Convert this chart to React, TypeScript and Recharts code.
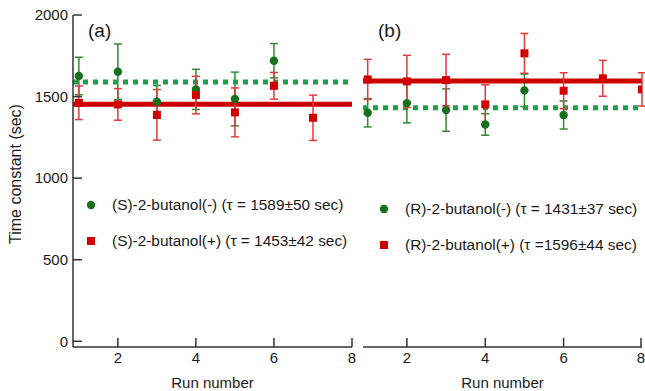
import React from "react";
import {
    ComposedChart,
    Scatter,
    ErrorBar,
    XAxis,
    YAxis,
    ReferenceLine,
} from "recharts";

// run numbers
const runsSMinus = [1, 2, 3, 4, 5, 6];
const runsSPlus = [1, 2, 3, 4, 5, 6, 7];
const runsRMinus = [1, 2, 3, 4, 5, 6];
const runsRPlus = [1, 2, 3, 4, 5, 6, 7, 8];

// time constants (sec) and their errors
const tauSMinus = [1626, 1652, 1468, 1544, 1485, 1720];
const errSMinus = [115, 170, 100, 123, 165, 105];
const tauSPlus = [1462, 1452, 1388, 1509, 1403, 1566, 1370];
const errSPlus = [103, 97, 155, 115, 150, 82, 139];
const tauRMinus = [1401, 1460, 1417, 1329, 1538, 1387];
const errRMinus = [87, 121, 130, 66, 100, 86];
const tauRPlus = [1605, 1593, 1601, 1452, 1765, 1536, 1612, 1544];
const errRPlus = [123, 160, 158, 120, 122, 110, 110, 102];

// fitted averages
const fitSMinus = 1589;
const fitSPlus = 1453;
const fitRMinus = 1431;
const fitRPlus = 1596;

const xTicks = [2, 4, 6, 8];
const yTicks = [0, 500, 1000, 1500, 2000];

const GREEN_DOT = "#17701c";
const GREEN_BAR = "#2f8a2f";
const GREEN_FIT = "#1ea04a";
const RED_DOT = "#d00000";
const RED_BAR = "#e23a3a";
const RED_FIT = "#cc0000";
const AXIS = "#333";
const TEXT = "#1a1a1a";
const FONT = "'Liberation Sans', Arial, sans-serif";

const toRows = (runs: number[], tau: number[], err: number[]) =>
    runs.map((run, i) => ({ run, tau: tau[i], err: err[i] }));

const Circle = (props: any) => {
    const { cx, cy } = props;
    if (cx == null || cy == null) return null;
    return <circle cx={cx} cy={cy} r={4.2} fill={GREEN_DOT} />;
};

const Square = (props: any) => {
    const { cx, cy } = props;
    if (cx == null || cy == null) return null;
    return <rect x={cx - 4} y={cy - 4} width={8} height={8} fill={RED_DOT} />;
};

// ticks point inwards, so draw them by hand
const XTick = (props: any) => {
    const { x, y, payload } = props;
    return (
        <g>
            <line x1={x} x2={x} y1={y} y2={y - 9} stroke={AXIS} strokeWidth={1.5} />
            <text x={x} y={y + 5} dy="0.71em" textAnchor="middle" fill={TEXT} fontSize={15} fontFamily={FONT}>
                {payload.value}
            </text>
        </g>
    );
};

const YTick = (props: any) => {
    const { x, y, payload, showLabel } = props;
    return (
        <g>
            <line x1={x} x2={x + 9} y1={y} y2={y} stroke={AXIS} strokeWidth={1.5} />
            {showLabel && (
                <text x={x - 5} y={y} dy="0.355em" textAnchor="end" fill={TEXT} fontSize={15} fontFamily={FONT}>
                    {payload.value}
                </text>
            )}
        </g>
    );
};

const LegendBox = ({ items, left, top }: { items: { label: string; kind: string }[]; left: number; top: number }) => (
    <div style={{ position: "absolute", left, top, fontFamily: FONT, fontSize: 15.4, color: TEXT, whiteSpace: "nowrap" }}>
        {items.map((it, i) => (
            <div key={i} style={{ display: "flex", alignItems: "center", height: 36 }}>
                <svg width={27} height={12}>
                    {it.kind === "circle" ? (
                        <circle cx={6} cy={6} r={4.2} fill={GREEN_DOT} />
                    ) : (
                        <rect x={2} y={2} width={8} height={8} fill={RED_DOT} />
                    )}
                </svg>
                <span>{it.label}</span>
            </div>
        ))}
    </div>
);

interface PanelProps {
    tag: string;
    width: number;
    margin: { top: number; right: number; bottom: number; left: number };
    xMin: number;
    minus: { run: number; tau: number; err: number }[];
    plus: { run: number; tau: number; err: number }[];
    fitMinus: number;
    fitPlus: number;
    showYLabels: boolean;
}

function Panel(p: PanelProps) {
    const axisX = p.margin.left + (p.showYLabels ? 73 : 0);
    return (
        <ComposedChart width={p.width} height={391} margin={p.margin}>
            <XAxis
                dataKey="run"
                type="number"
                domain={[p.xMin, 8]}
                ticks={xTicks}
                allowDataOverflow
                height={44}
                tickSize={0}
                tickMargin={0}
                tickLine={false}
                tick={<XTick />}
                stroke={AXIS}
                strokeWidth={1.5}
                label={{
                    value: "Run number",
                    position: "insideBottom",
                    offset: 3,
                    fill: TEXT,
                    fontSize: 15,
                    fontFamily: FONT,
                }}
            />
            <YAxis
                type="number"
                domain={[-35, 2000]}
                ticks={yTicks}
                allowDataOverflow
                width={p.showYLabels ? 73 : 0}
                tickSize={0}
                tickMargin={0}
                tickLine={false}
                tick={<YTick showLabel={p.showYLabels} />}
                stroke={AXIS}
                strokeWidth={1.5}
                label={
                    p.showYLabels
                        ? {
                              value: "Time constant (sec)",
                              angle: -90,
                              position: "center",
                              dx: -21,
                              dy: -7,
                              fill: TEXT,
                              fontSize: 16,
                              fontFamily: FONT,
                          }
                        : undefined
                }
            />
            <Scatter data={p.minus} dataKey="tau" shape={<Circle />} isAnimationActive={false}>
                <ErrorBar dataKey="err" direction="y" width={4} stroke={GREEN_BAR} strokeWidth={1.5} />
            </Scatter>
            <ReferenceLine y={p.fitPlus} stroke={RED_FIT} strokeWidth={5} />
            <ReferenceLine y={p.fitMinus} stroke={GREEN_FIT} strokeWidth={5} strokeDasharray="5 5" />
            <Scatter data={p.plus} dataKey="tau" shape={<Square />} isAnimationActive={false}>
                <ErrorBar dataKey="err" direction="y" width={4} stroke={RED_BAR} strokeWidth={1.5} />
            </Scatter>
            <text x={axisX + 15} y={37} fontSize={19} fontFamily={FONT} fill={TEXT}>
                {p.tag}
            </text>
        </ComposedChart>
    );
}

export default function App() {
    return (
        <div style={{ position: "absolute", left: 0, top: 0, width: 645, height: 391, background: "#fff", overflow: "hidden" }}>
            <div style={{ position: "absolute", left: 0, top: 0 }}>
                <Panel
                    tag="(a)"
                    width={356}
                    margin={{ top: 15, right: 4, bottom: 0, left: 0 }}
                    xMin={0.85}
                    minus={toRows(runsSMinus, tauSMinus, errSMinus)}
                    plus={toRows(runsSPlus, tauSPlus, errSPlus)}
                    fitMinus={fitSMinus}
                    fitPlus={fitSPlus}
                    showYLabels
                />
            </div>
            <div style={{ position: "absolute", left: 356, top: 0 }}>
                <Panel
                    tag="(b)"
                    width={289}
                    margin={{ top: 15, right: 3, bottom: 0, left: 7 }}
                    xMin={0.88}
                    minus={toRows(runsRMinus, tauRMinus, errRMinus)}
                    plus={toRows(runsRPlus, tauRPlus, errRPlus)}
                    fitMinus={fitRMinus}
                    fitPlus={fitRPlus}
                    showYLabels={false}
                />
            </div>
            <LegendBox
                left={85}
                top={187}
                items={[
                    { label: "(S)-2-butanol(-) (\u03c4 = 1589\u00b150 sec)", kind: "circle" },
                    { label: "(S)-2-butanol(+) (\u03c4 = 1453\u00b142 sec)", kind: "square" },
                ]}
            />
            <LegendBox
                left={378}
                top={191}
                items={[
                    { label: "(R)-2-butanol(-) (\u03c4 = 1431\u00b137 sec)", kind: "circle" },
                    { label: "(R)-2-butanol(+) (\u03c4 =1596\u00b144 sec)", kind: "square" },
                ]}
            />
        </div>
    );
}
